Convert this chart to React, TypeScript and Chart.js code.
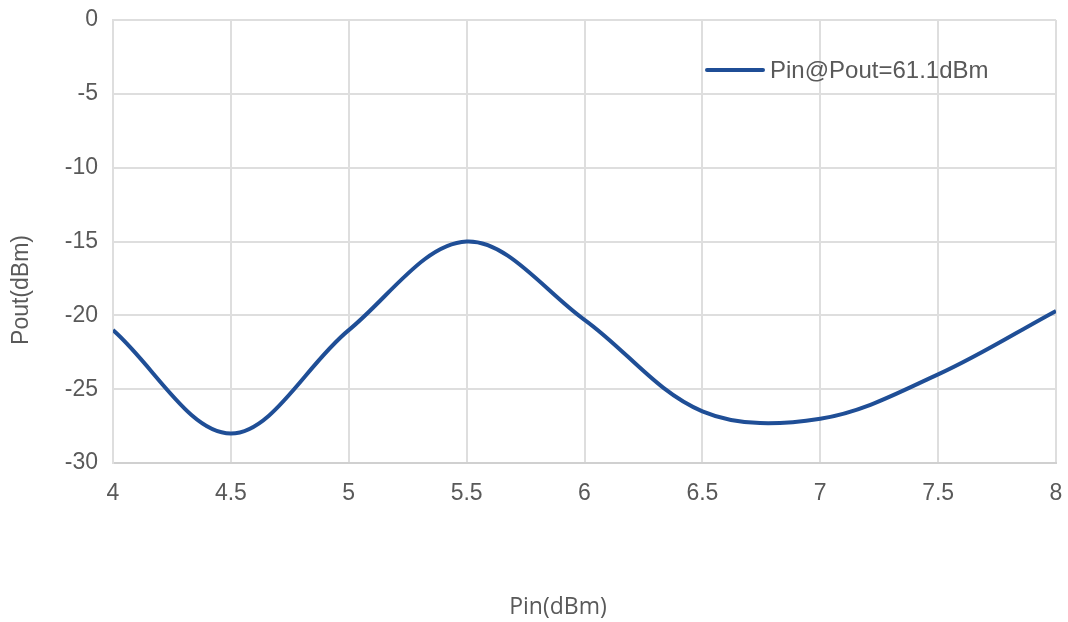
import React, { useEffect, useRef } from "react";
import { Chart, registerables } from "chart.js";

Chart.register(...registerables);

const pinValues = [4, 4.5, 5, 5.5, 6, 6.5, 7, 7.5, 8];
const poutValues = [-21, -28, -21, -15, -20.3, -26.5, -27, -24, -19.7];
const seriesLabel = "Pin@Pout=61.1dBm";
const xTitle = "Pin(dBm)";
const yTitle = "Pout(dBm)";

const LINE_COLOR = "#1F4E96";
const TEXT_COLOR = "#595959";
const GRID_COLOR = "#dedede";

const overlayPlugin = {
  id: "overlay",
  afterDraw(chart: any) {
    const { ctx, chartArea } = chart;
    ctx.save();
    // legend
    const ly = chartArea.top + 50;
    const lx = chartArea.right - 349;
    ctx.strokeStyle = LINE_COLOR;
    ctx.lineWidth = 4;
    ctx.lineCap = "round";
    ctx.beginPath();
    ctx.moveTo(lx, ly);
    ctx.lineTo(lx + 56, ly);
    ctx.stroke();
    ctx.fillStyle = TEXT_COLOR;
    ctx.font = '24px "Liberation Sans", Arial, sans-serif';
    ctx.textBaseline = "middle";
    ctx.textAlign = "left";
    ctx.fillText(chart.data.datasets[0].label, lx + 63, ly + 1);
    // x title
    ctx.font = '23px "Open Sans", sans-serif';
    ctx.textAlign = "center";
    ctx.fillText(xTitle, 558, 607);
    // y title
    ctx.translate(22, 290);
    ctx.rotate(-Math.PI / 2);
    ctx.font = '23px "Liberation Sans", Arial, sans-serif';
    ctx.fillText(yTitle, 0, 0);
    ctx.restore();
  },
};

export default function App() {
  const canvasRef = useRef<HTMLCanvasElement | null>(null);

  useEffect(() => {
    if (!canvasRef.current) return;
    const chart = new Chart(canvasRef.current, {
      type: "line",
      data: {
        datasets: [
          {
            label: seriesLabel,
            data: pinValues.map((x, i) => ({ x, y: poutValues[i] })),
            borderColor: LINE_COLOR,
            backgroundColor: LINE_COLOR,
            borderWidth: 4,
            pointRadius: 0,
            tension: 0.35,
            fill: false,
          },
        ],
      },
      options: {
        animation: false,
        responsive: true,
        maintainAspectRatio: false,
        layout: { padding: { top: 20, right: 12, left: 0, bottom: 0 } },
        plugins: {
          legend: { display: false },
          tooltip: { enabled: false },
        },
        scales: {
          x: {
            type: "linear",
            min: 4,
            max: 8,
            ticks: {
              stepSize: 0.5,
              color: TEXT_COLOR,
              font: { family: '"Liberation Sans", Arial, sans-serif', size: 23 },
              padding: 17,
              maxRotation: 0,
              callback: (v: any) => String(Number(v)),
            },
            grid: { color: GRID_COLOR, lineWidth: 2, drawTicks: false },
            border: { color: "#d0d0d0", width: 2 },
            afterFit(scale: any) {
              scale.height = 159;
              scale.paddingLeft = 0;
              scale.paddingRight = 0;
            },
          },
          y: {
            min: -30,
            max: 0,
            ticks: {
              stepSize: 5,
              color: TEXT_COLOR,
              font: { family: '"Liberation Sans", Arial, sans-serif', size: 23 },
              padding: 15,
            },
            grid: { color: GRID_COLOR, lineWidth: 2, drawTicks: false },
            border: { color: GRID_COLOR, width: 2 },
            afterFit(scale: any) {
              scale.width = 113;
              scale.paddingTop = 0;
              scale.paddingBottom = 0;
            },
          },
        },
      },
      plugins: [overlayPlugin],
    });
    return () => chart.destroy();
  }, []);

  return (
    <div style={{ position: "fixed", left: 0, top: 0, width: 1068, height: 622, background: "#fff" }}>
      <canvas ref={canvasRef} />
    </div>
  );
}
